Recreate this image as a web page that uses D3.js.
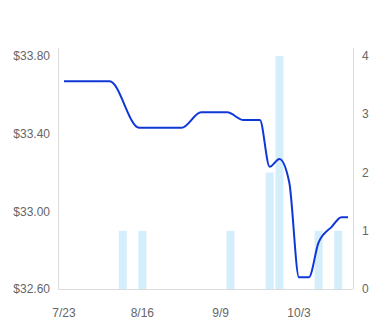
<!DOCTYPE html>
<meta charset="utf-8">
<style>
  body { margin: 0; background: #fff; }
  .chart text { font-family: "Liberation Sans", Arial, sans-serif; font-size: 12px; fill: #666; }
</style>
<body>
<div class="chart"></div>
<script src="https://d3js.org/d3.v7.min.js"></script>
<script>
    // price line (smoothed)
    const priceDates = ["2019-07-23","2019-08-06","2019-08-15","2019-08-28","2019-09-03","2019-09-11",
                        "2019-09-16","2019-09-21","2019-09-24","2019-09-27","2019-09-30","2019-10-03",
                        "2019-10-06","2019-10-09","2019-10-13","2019-10-16","2019-10-18"];
    const priceValues = [33.67, 33.67, 33.43, 33.43, 33.51, 33.51,
                         33.47, 33.47, 33.23, 33.27, 33.15, 32.66,
                         32.66, 32.84, 32.92, 32.97, 32.97];

    // count bars
    const barDates = ["2019-08-10","2019-08-16","2019-09-12","2019-09-24","2019-09-27","2019-10-09","2019-10-15"];
    const barValues = [1, 1, 1, 2, 4, 1, 1];

    const xTickDates = ["2019-07-23","2019-08-16","2019-09-09","2019-10-03"];
    const leftTicks = [32.6, 33.0, 33.4, 33.8];
    const rightTicks = [0, 1, 2, 3, 4];

    const width = 380, height = 331;
    const margin = {top: 56, right: 27, bottom: 42, left: 58};
    const parse = d3.timeParse("%Y-%m-%d");

    let svg = d3.select(".chart").append("svg")
        .attr("width", width)
        .attr("height", height);

    let x = d3.scaleTime()
        .domain([parse("2019-07-23"), parse("2019-10-18")])
        .range([64, 348]);
    let yL = d3.scaleLinear().domain([32.6, 33.8]).range([height - margin.bottom, margin.top]);
    let yR = d3.scaleLinear().domain([0, 4]).range([height - margin.bottom, margin.top]);

    let bottom = height - margin.bottom;
    let right = width - margin.right;

    // bars behind the line
    svg.append("g")
        .selectAll("rect")
        .data(barDates.map((d, i) => ({date: parse(d), v: barValues[i]})))
        .join("rect")
        .attr("x", d => x(d.date) - 4)
        .attr("width", 8)
        .attr("y", d => yR(d.v))
        .attr("height", d => bottom - yR(d.v))
        .attr("fill", "#d5eefb");

    // axis lines
    let axes = svg.append("g").attr("stroke", "#dcdcdc").attr("stroke-width", 1);
    axes.append("line").attr("x1", margin.left + 0.5).attr("x2", margin.left + 0.5)
        .attr("y1", margin.top - 8).attr("y2", bottom);
    axes.append("line").attr("x1", right + 0.5).attr("x2", right + 0.5)
        .attr("y1", margin.top - 8).attr("y2", bottom);
    axes.append("line").attr("x1", margin.left).attr("x2", right)
        .attr("y1", bottom + 0.5).attr("y2", bottom + 0.5);

    // tick labels
    svg.append("g").selectAll("text").data(leftTicks).join("text")
        .attr("x", 50).attr("y", d => yL(d)).attr("dy", "0.35em")
        .attr("text-anchor", "end")
        .text(d => "$" + d.toFixed(2));

    svg.append("g").selectAll("text").data(rightTicks).join("text")
        .attr("x", right + 9).attr("y", d => yR(d)).attr("dy", "0.35em")
        .attr("text-anchor", "start")
        .text(d => d);

    svg.append("g").selectAll("text").data(xTickDates).join("text")
        .attr("x", d => x(parse(d))).attr("y", 317)
        .attr("text-anchor", "middle")
        .text(d => d3.timeFormat("%-m/%-d")(parse(d)));

    // price line
    let line = d3.line()
        .x(d => x(d.date))
        .y(d => yL(d.v))
        .curve(d3.curveMonotoneX);

    svg.append("path")
        .datum(priceDates.map((d, i) => ({date: parse(d), v: priceValues[i]})))
        .attr("fill", "none")
        .attr("stroke", "#0f37d8")
        .attr("stroke-width", 2)
        .attr("d", line);
</script>
